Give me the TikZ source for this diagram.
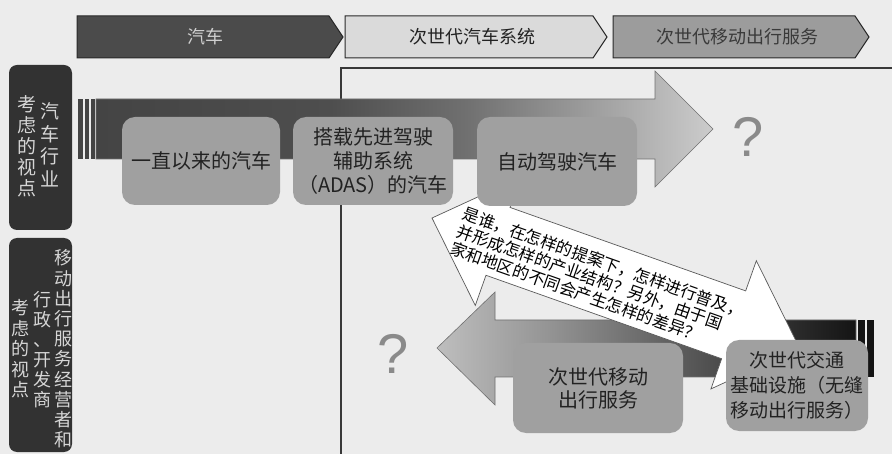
\documentclass[tikz,border=0pt]{standalone}
\usepackage{fontspec}
\setmainfont{Noto Sans CJK SC}
\newfontfamily\qfont{Liberation Sans}
\usetikzlibrary{calc}
\definecolor{bg}{HTML}{ECECEC}
\definecolor{ch1}{HTML}{4B4B4B}
\definecolor{ch1t}{HTML}{CFCFCF}
\definecolor{ch2}{HTML}{DADADA}
\definecolor{ch3}{HTML}{9C9C9C}
\definecolor{ch3t}{HTML}{3A3A3A}
\definecolor{chl}{HTML}{2A2A2A}
\definecolor{frame}{HTML}{383838}
\definecolor{boxc}{HTML}{A0A0A0}
\definecolor{txt}{HTML}{222222}
\definecolor{sidec}{HTML}{323232}
\definecolor{sidet}{HTML}{D6D6D6}
\definecolor{qc}{HTML}{8A8A8A}
\definecolor{arrl}{HTML}{707070}
\definecolor{ta1}{HTML}{444444}
\definecolor{ta2}{HTML}{4E4E4E}
\definecolor{ta3}{HTML}{707070}
\definecolor{ta4}{HTML}{A6A6A6}
\definecolor{ta5}{HTML}{CCCCCC}
\definecolor{bb1}{HTML}{BEBEBE}
\definecolor{bb2}{HTML}{959595}
\definecolor{bb3}{HTML}{555555}
\definecolor{bb4}{HTML}{2A2A2A}
\definecolor{bb5}{HTML}{141414}
\pgfdeclarehorizontalshading{topbar}{100bp}{color(0bp)=(ta1); color(25bp)=(ta1); color(44bp)=(ta2); color(55bp)=(ta3); color(67bp)=(ta4); color(75bp)=(ta5); color(100bp)=(ta5)}
\pgfdeclarehorizontalshading{botbar}{100bp}{color(0bp)=(bb1); color(25bp)=(bb1); color(38bp)=(bb2); color(56bp)=(bb3); color(68bp)=(bb4); color(75bp)=(bb5); color(100bp)=(bb5)}
\begin{document}
\begin{tikzpicture}[x=1pt,y=-1pt,
  box/.style={fill=boxc, rounded corners=13pt, text=txt, align=center, inner sep=0pt, font=\fontsize{20}{24}\selectfont},
  chevtxt/.style={font=\fontsize{18}{18}\selectfont, inner sep=0pt},
  chevshape/.style={draw=chl, line width=1pt},
  sidebox/.style={fill=sidec, rounded corners=8pt, inner sep=0pt},
  vtxt/.style={text=sidet, align=center, inner sep=0pt},
  qmark/.style={text=qc, font=\qfont\fontsize{56}{56}\selectfont, inner sep=0pt}
]
\useasboundingbox (0,0) rectangle (892,454);
\fill[bg] (0,0) rectangle (892,454);

% top chevrons
\draw[chevshape, fill=ch1] (77,16) -- (329,16) -- (343,37) -- (329,58) -- (77,58) -- cycle;
\node[chevtxt, text=ch1t] (c1) at (205,37) {汽车};
\draw[chevshape, fill=ch2] (345,16) -- (593,16) -- (607,37) -- (593,58) -- (345,58) -- cycle;
\node[chevtxt, text=txt] (c2) at (472,37) {次世代汽车系统};
\draw[chevshape, fill=ch3] (613,16) -- (855,16) -- (869,37) -- (855,58) -- (613,58) -- cycle;
\node[chevtxt, text=ch3t] (c3) at (737,37) {次世代移动出行服务};

% frame lines
\draw[frame, line width=2.5pt] (341,454) -- (341,68) -- (892,68);

% top arrow
\foreach \a/\b in {78/83, 84.5/89, 90.5/95} \fill[ta1] (\a,99) rectangle (\b,159);
\shadedraw[shading=topbar, draw=arrl, line width=0.6pt] (96,99) -- (655,99) -- (655,71) -- (713,129) -- (655,187) -- (655,159) -- (96,159) -- cycle;

% bottom arrow
\shadedraw[shading=botbar, draw=arrl, line width=0.6pt] (437,348) -- (495,292) -- (495,320) -- (856,320) -- (856,377) -- (495,377) -- (495,405) -- cycle;
\foreach \a/\b in {858/865, 867/874} \fill[bb5] (\a,320) rectangle (\b,377);

% white double arrow with question
\begin{scope}[shift={(432,218)}, rotate=-19.5]
\draw[fill=white, draw=black!65, line width=0.7pt] (0,0) -- (70,-68) -- (70,-36) -- (320,-36) -- (320,-68) -- (390,0) -- (320,68) -- (320,36) -- (70,36) -- (70,68) -- cycle;
\node[rotate=-19.5, anchor=west, align=left, inner sep=0pt, text=black, font=\fontsize{16.5}{18.5}\selectfont] (qtext) at (28,3) {是谁，在怎样的提案下，怎样进行普及，\\并形成怎样的产业结构？另外，由于国\\家和地区的不同会产生怎样的差异？};
\end{scope}

% boxes
\node[box, minimum width=158pt, minimum height=88pt] (b1) at (201,161) {一直以来的汽车};
\node[box, minimum width=160pt, minimum height=88pt] (b2) at (373,161) {搭载先进驾驶\\辅助系统\\（ADAS）的汽车};
\node[box, minimum width=160pt, minimum height=89pt] (b3) at (557,161.5) {自动驾驶汽车};
\node[box, minimum width=170pt, minimum height=90pt, font=\fontsize{20}{23}\selectfont] (b4) at (598,388) {次世代移动\\出行服务};
\node[box, minimum width=142pt, minimum height=91pt, font=\fontsize{19}{25}\selectfont] (b5) at (797,385.5) {次世代交通\\基础设施（无缝\\移动出行服务）};

% question marks
\node[qmark] (q1) at (748,137) {?};
\node[qmark] (q2) at (393,354) {?};

% side labels
\node[sidebox, minimum width=63pt, minimum height=165pt] (s1) at (40.5,147.5) {};
\node[vtxt, font=\fontsize{19}{22.5}\selectfont] (s1a) at (50,145) {汽\\车\\行\\业};
\node[vtxt, font=\fontsize{19}{21}\selectfont] (s1b) at (27,146) {考\\虑\\的\\视\\点};
\node[sidebox, minimum width=63pt, minimum height=214pt] (s2) at (40.5,345) {};
\node[vtxt, font=\fontsize{18}{20.2}\selectfont] (s2a) at (63,349) {移\\动\\出\\行\\服\\务\\经\\营\\者\\和};
\node[vtxt, font=\fontsize{18}{20}\selectfont] (s2b) at (42,350) {行\\政\\、\\开\\发\\商};
\node[vtxt, font=\fontsize{18}{20.5}\selectfont] (s2c) at (20,349) {考\\虑\\的\\视\\点};
\end{tikzpicture}
\end{document}
